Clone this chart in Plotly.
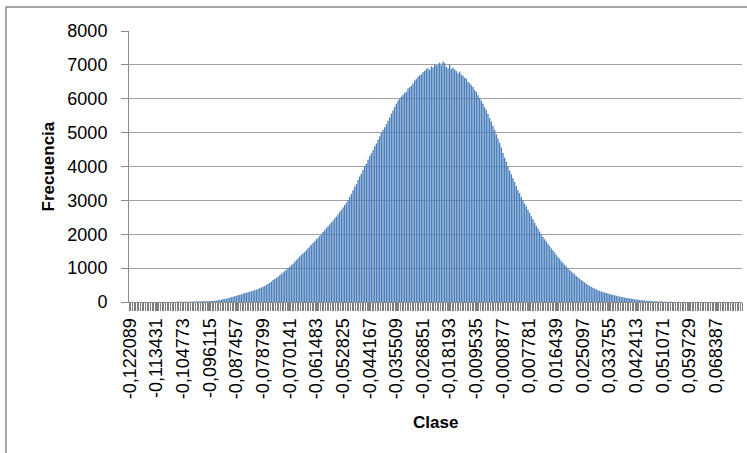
import plotly.graph_objects as go

# Frecuencia por clase (368 clases)
frecuencia = [
    0, 0, 0, 0, 0, 0, 0, 1, 0, 0,
    0, 1, 0, 0, 1, 0, 1, 1, 0, 2,
    1, 2, 1, 3, 2, 3, 4, 3, 5, 4,
    6, 5, 7, 8, 7, 9, 10, 9, 12, 13,
    14, 16, 15, 18, 20, 19, 23, 25, 27, 30,
    33, 37, 42, 48, 56, 66, 78, 88, 99, 112,
    126, 140, 152, 168, 183, 200, 214, 228, 245, 262,
    278, 290, 305, 318, 334, 350, 362, 381, 405, 428,
    448, 470, 505, 532, 566, 598, 648, 680, 712, 748,
    790, 832, 870, 912, 958, 1002, 1040, 1085, 1130, 1190,
    1240, 1295, 1340, 1390, 1440, 1475, 1530, 1590, 1640, 1690,
    1745, 1790, 1850, 1900, 1948, 2010, 2070, 2115, 2180, 2235,
    2290, 2350, 2400, 2470, 2520, 2580, 2660, 2720, 2790, 2860,
    2930, 3000, 3110, 3190, 3300, 3400, 3480, 3600, 3700, 3790,
    3900, 4010, 4080, 4200, 4300, 4390, 4480, 4600, 4680, 4790,
    4890, 5000, 5080, 5160, 5250, 5350, 5450, 5560, 5650, 5760,
    5850, 5950, 5990, 6060, 6120, 6180, 6200, 6300, 6340, 6380,
    6450, 6540, 6580, 6650, 6690, 6720, 6780, 6820, 6870, 6900,
    6850, 6950, 6920, 7010, 6980, 7000, 7060, 6980, 7100, 7050,
    6940, 6900, 7020, 6880, 6920, 6860, 6820, 6750, 6800, 6710,
    6680, 6620, 6590, 6500, 6460, 6400, 6350, 6260, 6200, 6100,
    6020, 5940, 5850, 5750, 5660, 5550, 5430, 5330, 5200, 5080,
    4950, 4830, 4700, 4560, 4400, 4260, 4140, 4000, 3880, 3770,
    3650, 3540, 3420, 3300, 3210, 3100, 3000, 2900, 2820, 2720,
    2630, 2530, 2440, 2340, 2250, 2170, 2080, 2000, 1920, 1850,
    1790, 1720, 1650, 1580, 1520, 1460, 1390, 1330, 1280, 1210,
    1150, 1100, 1050, 1000, 950, 900, 860, 820, 770, 730,
    690, 650, 610, 580, 540, 500, 470, 445, 420, 395,
    375, 350, 332, 312, 295, 278, 262, 248, 232, 218,
    210, 200, 185, 172, 160, 150, 140, 130, 120, 112,
    104, 96, 88, 80, 72, 66, 60, 55, 50, 45,
    40, 36, 32, 28, 25, 22, 19, 16, 14, 12,
    10, 8, 7, 6, 5, 4, 3, 3, 2, 2,
    2, 1, 1, 1, 0, 1, 0, 0, 1, 0,
    0, 0, 0, 0, 0, 0, 0, 0, 0, 0,
    0, 0, 0, 0, 0, 0, 0, 0, 0, 0,
    0, 0, 0, 0, 0, 0, 0, 0,
]

# Etiquetas de clase mostradas (una de cada 16 clases)
etiquetas_clase = [
    "-0,122089", "-0,113431", "-0,104773", "-0,096115", "-0,087457",
    "-0,078799", "-0,070141", "-0,061483", "-0,052825", "-0,044167",
    "-0,035509", "-0,026851", "-0,018193", "-0,009535", "-0,000877",
    "0,007781", "0,016439", "0,025097", "0,033755", "0,042413",
    "0,051071", "0,059729", "0,068387",
]
paso_etiqueta = 16

clases = list(range(len(frecuencia)))
tick_pos = [i * paso_etiqueta for i in range(len(etiquetas_clase))]

FONT = "Liberation Sans"
GRAY = "#8c8c8c"
TICKGRAY = "#808080"
BLUE = "#4f81bd"

fig = go.Figure(go.Bar(x=clases, y=frecuencia,
                       marker=dict(color=BLUE, line=dict(width=0.05, color=BLUE))))

fig.update_layout(
    width=747, height=453,
    margin=dict(l=129, r=5, t=31, b=151),
    paper_bgcolor="white", plot_bgcolor="white",
    bargap=0.2, showlegend=False,
    font=dict(family=FONT, size=18, color="#000000"),
)

fig.update_xaxes(
    range=[-0.5, len(frecuencia) - 0.5],
    tickmode="array", tickvals=tick_pos, ticktext=etiquetas_clase,
    tickangle=-90, ticks="outside", ticklen=8, tickcolor=TICKGRAY, tickwidth=1.2,
    minor=dict(ticks="outside", ticklen=8, tickcolor=TICKGRAY, tickwidth=1.2,
               tickmode="linear", tick0=-0.5, dtick=1, showgrid=False),
    showline=True, linecolor=GRAY, linewidth=1,
    showgrid=False, zeroline=False,
    tickfont=dict(family=FONT, size=18),
)

fig.update_yaxes(
    range=[0, 8000], tickmode="linear", tick0=0, dtick=1000,
    ticks="outside", ticklen=7, tickcolor=GRAY, tickwidth=1,
    ticklabelstandoff=10,
    showline=True, linecolor=GRAY, linewidth=1,
    showgrid=True, gridcolor="#a0a0a0", gridwidth=1,
    zeroline=False,
    tickfont=dict(family=FONT, size=18),
)

fig.add_annotation(text="<b>Frecuencia</b>", xref="paper", yref="paper",
                   x=(48 - 129) / 613, y=0.5, xanchor="center", yanchor="middle",
                   textangle=-90, showarrow=False,
                   font=dict(family=FONT, size=17, color="#000000"))
fig.add_annotation(text="<b>Clase</b>", xref="paper", yref="paper",
                   x=0.5, y=(302 - 422) / 271, xanchor="center", yanchor="middle",
                   showarrow=False, font=dict(family=FONT, size=17, color="#000000"))

# Chart-area frame (partly outside the view, as in the reference)
fig.add_shape(type="rect", xref="paper", yref="paper",
              x0=(6 - 129) / 613, x1=1.2, y0=-1.0, y1=(302 - 7) / 271,
              line=dict(color=GRAY, width=1.5), fillcolor="rgba(0,0,0,0)", layer="below")

fig.write_html("out.html")
